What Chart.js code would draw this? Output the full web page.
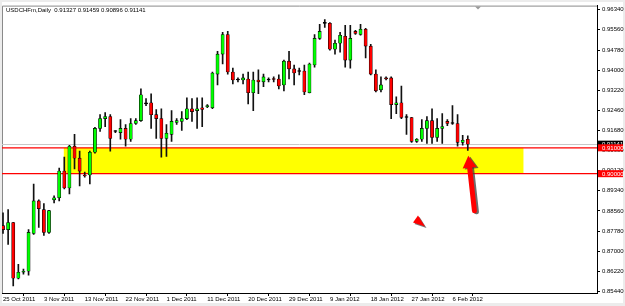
<!DOCTYPE html>
<html>
<head>
    <title>USDCHFm Daily</title>
    <script src="https://cdn.jsdelivr.net/npm/chart.js@4.4.0/dist/chart.umd.min.js"></script>
    <style>
        html, body { margin: 0; padding: 0; background: #ececec; }
        canvas { display: block; }
    </style>
</head>
<body>
    <canvas id="priceChart" width="625" height="306"></canvas>
    <script>
        const symbolName = 'USDCHFm,Daily';

        // daily OHLC, bar 0 = 25 Oct 2011
        const openPrices = [
            0.8799, 0.8784, 0.8811, 0.8596, 0.8619, 0.8623, 0.8769, 0.8895, 0.8861, 0.8773,
            0.8899, 0.8907, 0.9010, 0.8945, 0.9106, 0.9060, 0.8995, 0.8995, 0.9083, 0.9175,
            0.9213, 0.9221, 0.9163, 0.9159, 0.9175, 0.9133, 0.9194, 0.9205, 0.9270, 0.9274,
            0.9228, 0.9213, 0.9136, 0.9152, 0.9198, 0.9202, 0.9213, 0.9251, 0.9244, 0.9255,
            0.9259, 0.9255, 0.9385, 0.9462, 0.9538, 0.9393, 0.9362, 0.9362, 0.9366, 0.9313,
            0.9362, 0.9355, 0.9362, 0.9366, 0.9366, 0.9343, 0.9435, 0.9405, 0.9395, 0.9397,
            0.9313, 0.9420, 0.9523, 0.9581, 0.9581, 0.9481, 0.9504, 0.9531, 0.9439, 0.9550,
            0.9538, 0.9558, 0.9493, 0.9385, 0.9324, 0.9370, 0.9370, 0.9267, 0.9274, 0.9217,
            0.9217, 0.9125, 0.9133, 0.9175, 0.9205, 0.9140, 0.9175, 0.9202, 0.9194, 0.9194,
            0.9121, 0.91327
        ];
        const highPrices = [
            0.8849, 0.8861, 0.8812, 0.8650, 0.8631, 0.8784, 0.8960, 0.8899, 0.8884, 0.8858,
            0.8914, 0.9022, 0.9064, 0.9110, 0.9152, 0.9087, 0.9006, 0.9087, 0.9179, 0.9228,
            0.9236, 0.9228, 0.9167, 0.9209, 0.9190, 0.9213, 0.9213, 0.9328, 0.9290, 0.9309,
            0.9248, 0.9251, 0.9190, 0.9244, 0.9213, 0.9240, 0.9293, 0.9290, 0.9293, 0.9293,
            0.9267, 0.9393, 0.9473, 0.9546, 0.9550, 0.9408, 0.9370, 0.9385, 0.9393, 0.9393,
            0.9401, 0.9385, 0.9370, 0.9374, 0.9382, 0.9439, 0.9473, 0.9420, 0.9408, 0.9420,
            0.9427, 0.9538, 0.9577, 0.9596, 0.9584, 0.9516, 0.9546, 0.9573, 0.9573, 0.9554,
            0.9577, 0.9562, 0.9500, 0.9401, 0.9374, 0.9374, 0.9374, 0.9297, 0.9339, 0.9228,
            0.9218, 0.9136, 0.9209, 0.9221, 0.9251, 0.9213, 0.9232, 0.9209, 0.9263, 0.9228,
            0.9148, 0.91459
        ];
        const lowPrices = [
            0.8769, 0.8727, 0.8566, 0.8593, 0.8612, 0.8608, 0.8765, 0.8792, 0.8761, 0.8769,
            0.8887, 0.8895, 0.8941, 0.8922, 0.9018, 0.8953, 0.8987, 0.8960, 0.9079, 0.9163,
            0.9182, 0.9087, 0.9159, 0.9133, 0.9106, 0.9125, 0.9190, 0.9202, 0.9263, 0.9175,
            0.9136, 0.9064, 0.9067, 0.9125, 0.9190, 0.9167, 0.9209, 0.9202, 0.9175, 0.9182,
            0.9255, 0.9251, 0.9343, 0.9424, 0.9385, 0.9347, 0.9355, 0.9347, 0.9270, 0.9244,
            0.9309, 0.9336, 0.9355, 0.9355, 0.9328, 0.9320, 0.9366, 0.9343, 0.9382, 0.9305,
            0.9312, 0.9412, 0.9519, 0.9565, 0.9477, 0.9462, 0.9470, 0.9412, 0.9408, 0.9538,
            0.9535, 0.9447, 0.9382, 0.9316, 0.9316, 0.9362, 0.9213, 0.9232, 0.9213, 0.9152,
            0.9121, 0.9121, 0.9125, 0.9117, 0.9117, 0.9125, 0.9117, 0.9186, 0.9190, 0.9106,
            0.9110, 0.90896
        ];
        const closePrices = [
            0.8784, 0.8811, 0.8596, 0.8619, 0.8623, 0.8773, 0.8895, 0.8865, 0.8773, 0.8857,
            0.8907, 0.9010, 0.8945, 0.9106, 0.9060, 0.9010, 0.8991, 0.9083, 0.9175, 0.9213,
            0.9221, 0.9136, 0.9163, 0.9175, 0.9133, 0.9194, 0.9205, 0.9305, 0.9270, 0.9228,
            0.9213, 0.9136, 0.9156, 0.9202, 0.9205, 0.9213, 0.9251, 0.9240, 0.9251, 0.9248,
            0.9261, 0.9389, 0.9462, 0.9538, 0.9393, 0.9362, 0.9362, 0.9370, 0.9313, 0.9362,
            0.9355, 0.9374, 0.9362, 0.9364, 0.9339, 0.9435, 0.9405, 0.9389, 0.9395, 0.9316,
            0.9424, 0.9523, 0.9550, 0.9581, 0.9481, 0.9504, 0.9535, 0.9439, 0.9523, 0.9542,
            0.9558, 0.9493, 0.9385, 0.9320, 0.9343, 0.9366, 0.9267, 0.9274, 0.9217, 0.9217,
            0.9125, 0.9133, 0.9175, 0.9205, 0.9140, 0.9175, 0.9182, 0.9194, 0.9194, 0.9121,
            0.9129, 0.91141
        ];

        const dateTicks = [0, 8, 16, 24, 32, 40, 48, 56, 64, 72, 80, 88];
        const dateLabels = ['25 Oct 2011', '3 Nov 2011', '13 Nov 2011', '22 Nov 2011', '1 Dec 2011', '11 Dec 2011',
                            '20 Dec 2011', '29 Dec 2011', '9 Jan 2012', '18 Jan 2012', '27 Jan 2012', '6 Feb 2012'];
        const priceTicks = [0.96340, 0.95560, 0.94780, 0.94000, 0.93220, 0.92460, 0.91680, 0.90900,
                            0.90120, 0.89340, 0.88560, 0.87780, 0.87000, 0.86220, 0.85440];

        // support zone drawn on the chart
        const supportTop = 0.91000;
        const supportBottom = 0.90000;
        const zoneStartBar = 11.9;
        const zoneEndBar = 101.9;

        // hand drawn marks (bar index, price)
        const arrowTip = { bar: 91.1, price: 0.9069 };
        const arrowTail = { bar: 92.3, price: 0.8857 };
        const pointerMark = { bar: 81.45, price: 0.8815 };
        const shiftMarkBar = 93.0;

        const lastBar = closePrices.length - 1;

        Chart.defaults.font.family = "'Liberation Sans', Arial, sans-serif";
        Chart.defaults.font.size = 6;
        Chart.defaults.color = '#000';

        const bodyColors = openPrices.map((o, i) => {
            if (closePrices[i] > o) return '#00ff00';
            if (closePrices[i] < o) return '#ff0000';
            return '#000000';
        });

        const background = {
            id: 'background',
            beforeDraw(chart) {
                const { ctx, chartArea: a } = chart;
                ctx.save();
                ctx.fillStyle = '#ececec';
                ctx.fillRect(0, 0, chart.width, chart.height);
                ctx.fillStyle = '#ffffff';
                ctx.fillRect(2, 2, chart.width - 4, chart.height - 5);
                ctx.strokeStyle = '#8a8a8a';
                ctx.lineWidth = 1;
                ctx.beginPath();
                ctx.moveTo(a.left + 0.5, a.bottom);
                ctx.lineTo(a.left + 0.5, a.top + 0.5);
                ctx.lineTo(a.right, a.top + 0.5);
                ctx.stroke();
                ctx.restore();
            }
        };

        const supportZone = {
            id: 'supportZone',
            beforeDatasetsDraw(chart) {
                const { ctx, chartArea: a, scales: { x, y } } = chart;
                ctx.save();
                ctx.beginPath();
                ctx.rect(a.left, a.top, a.right - a.left, a.bottom - a.top);
                ctx.clip();

                const yTop = y.getPixelForValue(supportTop);
                const yBot = y.getPixelForValue(supportBottom);
                const x1 = x.getPixelForValue(zoneStartBar);
                const x2 = x.getPixelForValue(zoneEndBar);
                ctx.fillStyle = '#ffff00';
                ctx.fillRect(x1, yTop, x2 - x1, yBot - yTop);

                // bid line
                const yBid = Math.round(y.getPixelForValue(closePrices[lastBar])) + 0.5;
                ctx.strokeStyle = '#c8c8c8';
                ctx.lineWidth = 1;
                ctx.beginPath();
                ctx.moveTo(a.left, yBid);
                ctx.lineTo(a.right, yBid);
                ctx.stroke();

                ctx.strokeStyle = '#ff0000';
                ctx.lineWidth = 1.2;
                [yTop, yBot].forEach(py => {
                    ctx.beginPath();
                    ctx.moveTo(a.left, py);
                    ctx.lineTo(a.right, py);
                    ctx.stroke();
                });
                ctx.restore();
            }
        };

        function drawArrow(ctx, tx, ty, bx, by) {
            const dx = tx - bx, dy = ty - by;
            const len = Math.hypot(dx, dy);
            const ux = dx / len, uy = dy / len;
            const headLen = 12, headHalf = 7;
            const hx = tx - ux * headLen, hy = ty - uy * headLen;
            ctx.lineWidth = 5;
            ctx.lineCap = 'round';
            ctx.beginPath();
            ctx.moveTo(bx, by);
            ctx.lineTo(hx + ux * 2, hy + uy * 2);
            ctx.stroke();
            ctx.beginPath();
            ctx.moveTo(tx, ty);
            ctx.lineTo(hx - uy * headHalf, hy + ux * headHalf);
            ctx.lineTo(hx + uy * headHalf, hy - ux * headHalf);
            ctx.closePath();
            ctx.fill();
        }

        function drawPointer(ctx, cx, cy) {
            ctx.beginPath();
            ctx.moveTo(cx - 6, cy + 1);
            ctx.lineTo(cx - 1, cy - 6);
            ctx.lineTo(cx + 6, cy + 5);
            ctx.closePath();
            ctx.fill();
        }

        const overlay = {
            id: 'overlay',
            afterDraw(chart) {
                const { ctx, chartArea: a, scales: { x, y } } = chart;
                ctx.save();

                // header
                ctx.fillStyle = '#000';
                ctx.font = "6px 'Liberation Sans', Arial, sans-serif";
                ctx.textBaseline = 'middle';
                ctx.textAlign = 'left';
                const header = symbolName + '  ' + [openPrices[lastBar], highPrices[lastBar],
                    lowPrices[lastBar], closePrices[lastBar]].map(v => v.toFixed(5)).join(' ');
                ctx.fillText(header, a.left + 4, a.top + 5);

                // chart shift marker
                const sx = x.getPixelForValue(shiftMarkBar);
                ctx.fillStyle = '#9a9a9a';
                ctx.beginPath();
                ctx.moveTo(sx - 3, a.top + 1);
                ctx.lineTo(sx + 3, a.top + 1);
                ctx.lineTo(sx, a.top + 4);
                ctx.closePath();
                ctx.fill();

                // price labels on the axis
                const boxes = [
                    { value: closePrices[lastBar], fill: '#000000' },
                    { value: supportTop, fill: '#ff0000' },
                    { value: supportBottom, fill: '#ff0000' }
                ];
                boxes.forEach(b => {
                    const py = y.getPixelForValue(b.value);
                    ctx.fillStyle = b.fill;
                    ctx.fillRect(y.left + 1, py - 3.5, 25, 7);
                    ctx.fillStyle = '#ffffff';
                    ctx.fillText(b.value.toFixed(5), y.left + 5, py + 0.5);
                });

                // red arrow with shadow
                const tx = x.getPixelForValue(arrowTip.bar), ty = y.getPixelForValue(arrowTip.price);
                const bx = x.getPixelForValue(arrowTail.bar), by = y.getPixelForValue(arrowTail.price);
                ctx.fillStyle = ctx.strokeStyle = 'rgba(60,60,60,0.75)';
                drawArrow(ctx, tx + 2, ty + 1, bx + 2, by + 1);
                ctx.fillStyle = ctx.strokeStyle = '#ff0000';
                drawArrow(ctx, tx, ty, bx, by);

                // small pointer
                const px = x.getPixelForValue(pointerMark.bar), pyy = y.getPixelForValue(pointerMark.price);
                ctx.fillStyle = 'rgba(60,60,60,0.7)';
                drawPointer(ctx, px + 1.5, pyy + 1.5);
                ctx.fillStyle = '#ff0000';
                drawPointer(ctx, px, pyy);

                ctx.restore();
            }
        };

        new Chart(document.getElementById('priceChart'), {
            type: 'bar',
            data: {
                datasets: [
                    {
                        label: 'Body',
                        data: openPrices.map((o, i) => ({ x: i, y: [o, closePrices[i]] })),
                        backgroundColor: bodyColors,
                        borderColor: '#000000',
                        borderWidth: 0.6,
                        borderSkipped: false,
                        barThickness: 3.2,
                        minBarLength: 1,
                        grouped: false
                    },
                    {
                        label: 'Wick',
                        data: lowPrices.map((l, i) => ({ x: i, y: [l, highPrices[i]] })),
                        backgroundColor: '#111111',
                        barThickness: 1,
                        grouped: false
                    }
                ]
            },
            options: {
                responsive: false,
                animation: false,
                layout: { padding: { left: 2, top: 3, right: 0, bottom: 0 } },
                plugins: {
                    legend: { display: false },
                    tooltip: { enabled: false }
                },
                scales: {
                    x: {
                        type: 'linear',
                        min: -0.2,
                        max: 116.3,
                        offset: false,
                        afterBuildTicks: scale => { scale.ticks = dateTicks.map(v => ({ value: v })); },
                        afterFit: scale => { scale.height = 13; },
                        grid: { display: true, drawOnChartArea: false, drawTicks: true, tickLength: 3, color: '#000' },
                        border: { display: true, color: '#000', width: 1 },
                        ticks: {
                            autoSkip: false,
                            maxRotation: 0,
                            align: 'start',
                            padding: 0,
                            callback: value => dateLabels[dateTicks.indexOf(value)]
                        }
                    },
                    y: {
                        type: 'linear',
                        position: 'right',
                        min: 0.85389,
                        max: 0.96496,
                        afterBuildTicks: scale => { scale.ticks = priceTicks.map(v => ({ value: v })); },
                        afterFit: scale => { scale.width = 28; },
                        grid: { display: true, drawOnChartArea: false, drawTicks: true, tickLength: 3, color: '#000' },
                        border: { display: true, color: '#000', width: 1 },
                        ticks: {
                            padding: 2,
                            callback: value => value.toFixed(5)
                        }
                    }
                }
            },
            plugins: [background, supportZone, overlay]
        });
    </script>
</body>
</html>
